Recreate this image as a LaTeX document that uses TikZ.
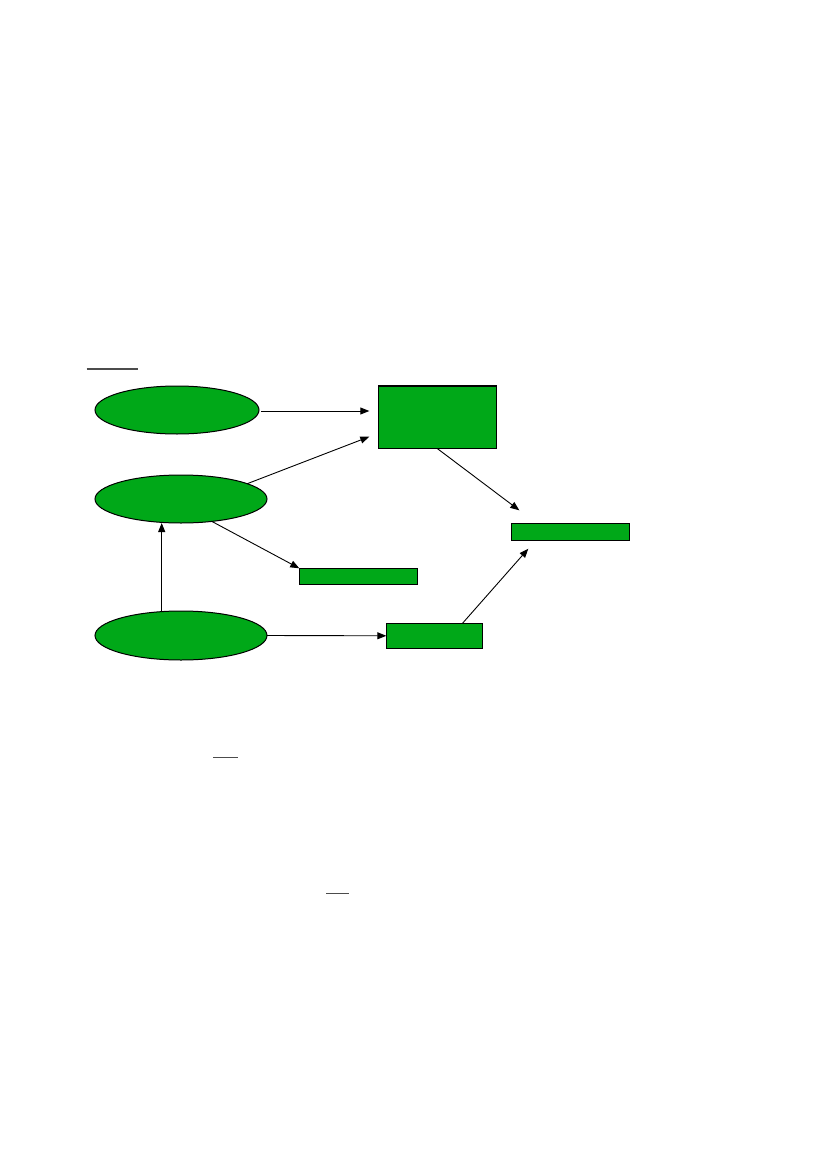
\documentclass[tikz,border=0pt]{standalone}
\usetikzlibrary{shapes.geometric,arrows.meta,calc}
\definecolor{grn}{RGB}{0,168,24}
\begin{document}
\begin{tikzpicture}[x=1pt,y=-1pt,
  ell/.style={ellipse,draw=black,fill=grn,line width=1pt,inner sep=0pt,outer sep=0pt},
  box/.style={rectangle,draw=black,fill=grn,line width=1.1pt,inner sep=0pt,outer sep=0pt},
  arr/.style={draw=black,line width=0.9pt,-{Triangle[length=9pt,width=7pt]}},
  rule/.style={draw=black!70,line width=1.3pt}]
\useasboundingbox (0,0) rectangle (826,1169);
\fill[white] (0,0) rectangle (826,1169);
% nodes
\node[ell,minimum width=164pt,minimum height=48pt] (e1) at (177,410) {};
\node[ell,minimum width=172pt,minimum height=48pt] (e2) at (181,499) {};
\node[ell,minimum width=172pt,minimum height=49pt] (e3) at (181,635.5) {};
\node[box,minimum width=118.4pt,minimum height=62.7pt] (a) at (437.5,417.35) {};
\node[box,minimum width=118.4pt,minimum height=17pt] (b) at (570.5,531.8) {};
\node[box,minimum width=118.4pt,minimum height=16pt] (c) at (358.5,576.3) {};
\node[box,minimum width=96.4pt,minimum height=25pt] (d) at (434.5,635.8) {};
% connectors
\draw[arr] ($(e1.east)+(2,1)$) -- ($(e1.east -| a.west)+(-9,1)$);
\draw[arr] (e2.13) -- ($(a.south west)+(-9,-12)$);
\draw[arr] (a.south) -- ($(b.north west)+(8,-13)$);
\draw[arr] ($(d.north)+(28,0)$) -- ($(b.south west)+(17,8.4)$);
\draw[arr] (e2.-36) -- (c.north west);
\draw[arr] ($(e3.north)+(-19.3,0)$) -- ($(e2.south)+(-19.3,0)$);
\draw[arr] (e3.east) -- (d.west);
% rules
\draw[rule] (86.7,369) -- (137.7,369);
\draw[rule] (213,757.7) -- (238,757.7);
\draw[rule] (326,893.7) -- (349,893.7);
\end{tikzpicture}
\end{document}
